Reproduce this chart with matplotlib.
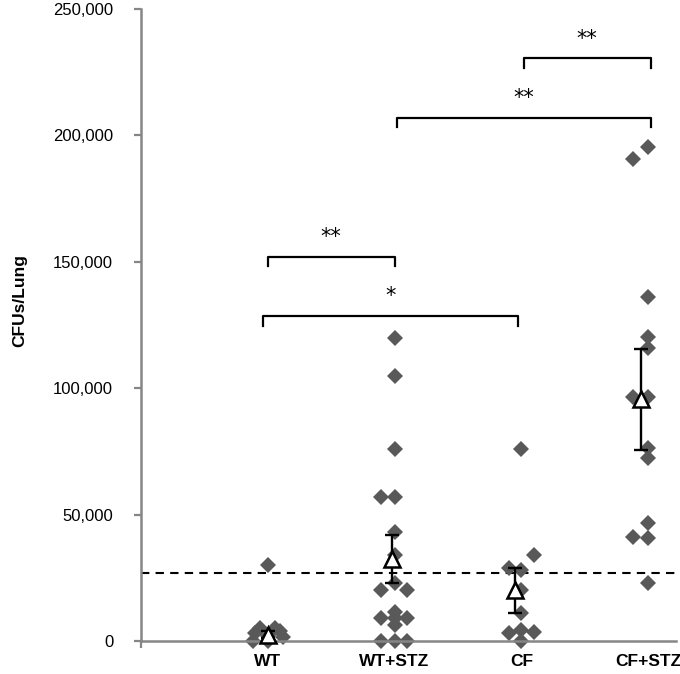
import matplotlib
matplotlib.use("Agg")
import matplotlib.pyplot as plt
from matplotlib.ticker import FuncFormatter

# category names (x positions 1..4)
groups = ["WT", "WT+STZ", "CF", "CF+STZ"]

# individual CFU counts per lung, with small horizontal jitter as drawn
wt_vals = [30000, 5000, 5000, 4000, 3000, 1500, 0, 0, 2000]
wt_jit = [0.0, -0.06, 0.06, 0.1, -0.1, 0.12, -0.12, 0.0, 0.0]

wtstz_vals = [120000, 105000, 76000, 57000, 57000, 43000, 34000, 23000,
              20000, 20000, 9000, 9000, 9000, 11500, 6500, 0, 0, 0]
wtstz_jit = [0.0, 0.0, 0.0, -0.11, 0.0, 0.0, 0.0, 0.0,
             -0.11, 0.1, -0.11, 0.0, 0.1, 0.0, 0.0, -0.11, 0.0, 0.1]

cf_vals = [76000, 34000, 29000, 28000, 20000, 11000, 4500, 3300, 3500, 0]
cf_jit = [0.0, 0.1, -0.1, 0.0, 0.0, 0.0, 0.0, -0.1, 0.1, 0.0]

cfstz_vals = [195500, 190700, 136000, 120400, 115800, 96600, 96600,
              76200, 72300, 46600, 41300, 40600, 22800]
cfstz_jit = [0.0, -0.12, 0.0, 0.0, 0.0, -0.12, 0.0,
             0.0, 0.0, 0.0, -0.12, 0.0, 0.0]

# group means and error bars
mean_vals = [2500, 32500, 20000, 95600]
mean_err = [1500, 9500, 9000, 20000]
mean_jit = [0.0, -0.02, -0.05, -0.06]

# detection limit line
cutoff = 26800

# significance brackets: (left, right, height, label)
brackets = [(3.02, 4.02, 230500, "**"),
            (2.02, 4.02, 207000, "**"),
            (1.0, 2.0, 152000, "**"),
            (0.96, 2.97, 128500, "*")]

all_vals = [wt_vals, wtstz_vals, cf_vals, cfstz_vals]
all_jit = [wt_jit, wtstz_jit, cf_jit, cfstz_jit]

fig = plt.figure(figsize=(6.8, 6.74), dpi=100)
ax = fig.add_axes([141 / 680, 1 - 641 / 674, 535 / 680, 632 / 674])

axis_col = "#868686"
pt_col = "#595959"

ax.axhline(cutoff, color="black", lw=1.5, ls=(0, (4, 3)), zorder=1)

for i in range(4):
    xs = [i + 1 + j for j in all_jit[i]]
    ax.plot(xs, all_vals[i], ls="none", marker="D", ms=8, color=pt_col,
            markeredgewidth=0, zorder=2, clip_on=False)

mx = [i + 1 + mean_jit[i] for i in range(4)]
ax.errorbar(mx, mean_vals, yerr=mean_err, fmt="none", ecolor="black",
            elinewidth=1.7, capsize=5, capthick=1.7, zorder=3)
ax.plot(mx, mean_vals, ls="none", marker="^", ms=12, mfc="white",
        mec="black", mew=1.8, zorder=4, clip_on=False)

for x1, x2, h, lab in brackets:
    ax.plot([x1, x1, x2, x2], [h - 3800, h, h, h - 3800], color="black",
            lw=1.6, zorder=3, clip_on=False)
    ax.text((x1 + x2) / 2, h + 7800, lab, ha="center", va="center",
            fontsize=15, family="DejaVu Sans")

ax.set_xlim(0, 4.22)
ax.set_ylim(0, 250000)

for s in ["top", "right"]:
    ax.spines[s].set_visible(False)
for s in ["left", "bottom"]:
    ax.spines[s].set_color(axis_col)
    ax.spines[s].set_linewidth(1.8)

ax.set_yticks(range(0, 250001, 50000))
ax.yaxis.set_major_formatter(FuncFormatter(lambda v, p: f"{int(v):,}"))
ax.tick_params(axis="y", direction="out", length=5, width=1.6,
               color=axis_col, pad=15, labelsize=12)
for t in ax.get_yticklabels():
    t.set_family("Liberation Sans")

ax.set_xticks([1, 2, 3, 4])
ax.set_xticklabels(groups, fontsize=12.5, fontweight="bold", family="Liberation Sans")
ax.tick_params(axis="x", length=0, pad=9)
ax.set_xticks([0, 4], minor=True)
ax.tick_params(axis="x", which="minor", direction="out", length=5,
               width=1.6, color=axis_col)

fig.text(20 / 680, 1 - 301 / 674, "CFUs/Lung", rotation=90, ha="center",
         va="center", fontsize=12.5, fontweight="bold", family="Liberation Sans")

fig.savefig("out.png", dpi=100)
